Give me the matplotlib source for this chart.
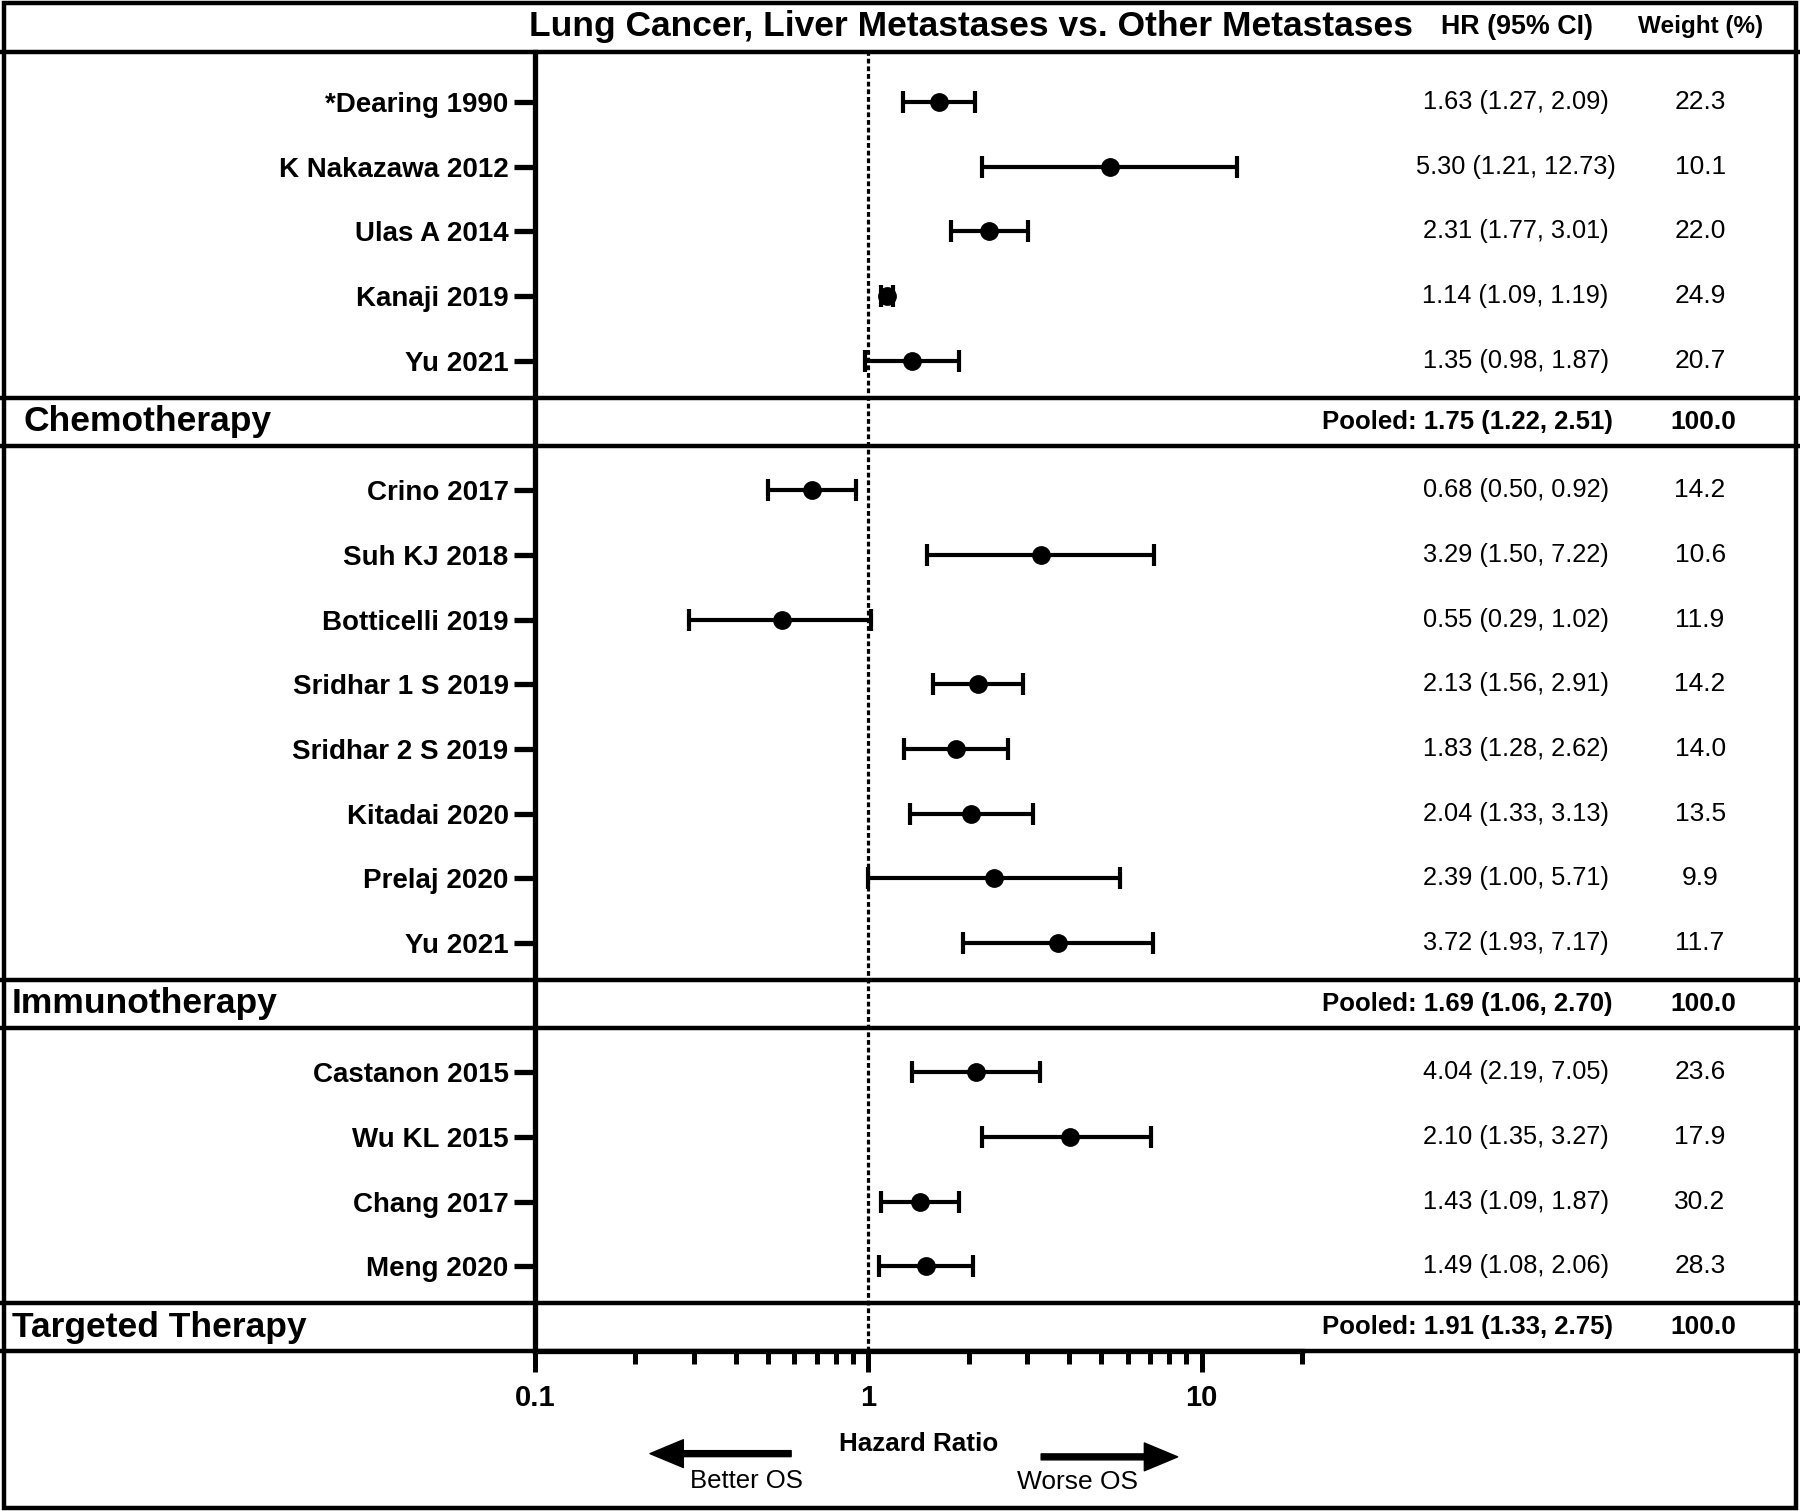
import matplotlib

matplotlib.use("Agg")
from matplotlib import pyplot as plt
from matplotlib import ticker, transforms
from matplotlib.patches import Rectangle

plt.rcParams["font.family"] = ["Liberation Sans", "DejaVu Sans"]

# ---- data -------------------------------------------------------------
title = "Lung Cancer, Liver Metastases vs. Other Metastases"

chemo_studies = ["*Dearing 1990", "K Nakazawa 2012", "Ulas A 2014", "Kanaji 2019", "Yu 2021"]
chemo_hr = [1.63, 5.30, 2.31, 1.14, 1.35]
chemo_lo = [1.27, 2.20, 1.77, 1.09, 0.98]
chemo_hi = [2.09, 12.73, 3.01, 1.19, 1.87]
chemo_text = ["1.63 (1.27, 2.09)", "5.30 (1.21, 12.73)", "2.31 (1.77, 3.01)",
              "1.14 (1.09, 1.19)", "1.35 (0.98, 1.87)"]
chemo_weight = ["22.3", "10.1", "22.0", "24.9", "20.7"]

immuno_studies = ["Crino 2017", "Suh KJ 2018", "Botticelli 2019", "Sridhar 1 S 2019",
                  "Sridhar 2 S 2019", "Kitadai 2020", "Prelaj 2020", "Yu 2021"]
immuno_hr = [0.68, 3.29, 0.55, 2.13, 1.83, 2.04, 2.39, 3.72]
immuno_lo = [0.50, 1.50, 0.29, 1.56, 1.28, 1.33, 1.00, 1.93]
immuno_hi = [0.92, 7.22, 1.02, 2.91, 2.62, 3.13, 5.71, 7.17]
immuno_text = ["0.68 (0.50, 0.92)", "3.29 (1.50, 7.22)", "0.55 (0.29, 1.02)",
               "2.13 (1.56, 2.91)", "1.83 (1.28, 2.62)", "2.04 (1.33, 3.13)",
               "2.39 (1.00, 5.71)", "3.72 (1.93, 7.17)"]
immuno_weight = ["14.2", "10.6", "11.9", "14.2", "14.0", "13.5", "9.9", "11.7"]

targeted_studies = ["Castanon 2015", "Wu KL 2015", "Chang 2017", "Meng 2020"]
targeted_hr = [2.10, 4.04, 1.43, 1.49]
targeted_lo = [1.35, 2.19, 1.09, 1.08]
targeted_hi = [3.27, 7.05, 1.87, 2.06]
targeted_text = ["4.04 (2.19, 7.05)", "2.10 (1.35, 3.27)", "1.43 (1.09, 1.87)",
                 "1.49 (1.08, 2.06)"]
targeted_weight = ["23.6", "17.9", "30.2", "28.3"]

group_names = ["Chemotherapy", "Immunotherapy", "Targeted Therapy"]
pooled_text = ["Pooled: 1.75 (1.22, 2.51)", "Pooled: 1.69 (1.06, 2.70)",
               "Pooled: 1.91 (1.33, 2.75)"]
pooled_weight = ["100.0", "100.0", "100.0"]

groups = [
    (chemo_studies, chemo_hr, chemo_lo, chemo_hi, chemo_text, chemo_weight),
    (immuno_studies, immuno_hr, immuno_lo, immuno_hi, immuno_text, immuno_weight),
    (targeted_studies, targeted_hr, targeted_lo, targeted_hi, targeted_text, targeted_weight),
]

# ---- layout -----------------------------------------------------------
fig = plt.figure(figsize=(18, 15.11), dpi=100)
ax = fig.add_axes([0.2972, 0.1059, 0.4261, 0.8599])

LW = 3.2
HR_X, W_X, POOL_X = 0.842, 0.9445, 0.896

# one row slot per study, one extra slot for each group's header band
row = 0
ticks, tick_labels, header_rows = [], [], []
hr_all, lo_all, hi_all, txt_all, w_all = [], [], [], [], []
for studies, hr, lo, hi, texts, weights in groups:
    for name in studies:
        ticks.append(row)
        tick_labels.append(name)
        row += 1
    hr_all += hr
    lo_all += lo
    hi_all += hi
    txt_all += texts
    w_all += weights
    header_rows.append(row)
    row += 1

fulltrans = transforms.blended_transform_factory(fig.transFigure, ax.transData)

# forest marks
xerr = [[h - l for h, l in zip(hr_all, lo_all)], [u - h for h, u in zip(hr_all, hi_all)]]
ax.errorbar(hr_all, ticks, xerr=xerr, fmt="o", color="black", ms=12.5, elinewidth=3,
            capsize=8, capthick=3, zorder=3)
ax.axvline(1, color="black", lw=2.3, ls=(0, (1.5, 0.9)), zorder=1)

# right-hand text columns
for y, txt, w in zip(ticks, txt_all, w_all):
    ax.text(HR_X, y, txt, transform=fulltrans, ha="center", va="center", fontsize=18.3)
    ax.text(W_X, y, w, transform=fulltrans, ha="center", va="center", fontsize=19)

# section header bands
above, below = 0.43, 0.31
top = -0.78
bottom = header_rows[-1] + below
sep_lines = [top]
for hrow, name, ptxt, pw in zip(header_rows, group_names, pooled_text, pooled_weight):
    sep_lines += [hrow - above, hrow + below]
    mid = hrow - (above - below) / 2
    lx = 0.0128 if name == "Chemotherapy" else 0.0064
    ax.text(lx, mid, name, transform=fulltrans, ha="left", va="center", fontsize=25.5,
            fontweight="bold")
    ax.text(POOL_X, mid, ptxt, transform=fulltrans, ha="right", va="center", fontsize=18.5,
            fontweight="bold")
    ax.text(W_X + 0.002, mid, pw, transform=fulltrans, ha="center", va="center", fontsize=19,
            fontweight="bold")
for y in sep_lines:
    ax.plot([0, 1], [y, y], transform=fulltrans, color="black", lw=LW, clip_on=False,
            solid_capstyle="butt", zorder=4)

ax.set_ylim(bottom, top)
ax.set_xscale("log")
ax.set_xlim(0.1, 20)
ax.set_yticks(ticks, tick_labels)
ax.xaxis.set_major_locator(ticker.FixedLocator([0.1, 1, 10]))
ax.xaxis.set_major_formatter(ticker.FixedFormatter(["0.1", "1", "10"]))
ax.xaxis.set_minor_locator(ticker.LogLocator(base=10, subs=range(2, 10)))
ax.xaxis.set_minor_formatter(ticker.NullFormatter())

for side in ("top", "right"):
    ax.spines[side].set_visible(False)
for side in ("left", "bottom"):
    ax.spines[side].set_linewidth(3.8)
ax.tick_params(axis="y", length=15, width=3.8, pad=4, labelsize=20)
ax.tick_params(axis="x", which="major", length=15, width=3.6, pad=9, labelsize=21)
ax.tick_params(axis="x", which="minor", length=9, width=3.6)
for lab in ax.get_yticklabels() + ax.get_xticklabels():
    lab.set_fontweight("bold")
ax.set_xlabel("Hazard Ratio", fontsize=18.7, fontweight="bold", labelpad=14)

# direction arrows
arrow = dict(facecolor="black", edgecolor="black", width=4.3, headwidth=20, headlength=24)
ax.annotate("", xy=(0.150, -0.079), xytext=(0.334, -0.079), xycoords="axes fraction",
            arrowprops=arrow, annotation_clip=False)
ax.annotate("", xy=(0.838, -0.0815), xytext=(0.660, -0.0815), xycoords="axes fraction",
            arrowprops=arrow, annotation_clip=False)
ax.text(0.276, -0.100, "Better OS", transform=ax.transAxes, ha="center", va="center",
        fontsize=18.5)
ax.text(0.708, -0.101, "Worse OS", transform=ax.transAxes, ha="center", va="center",
        fontsize=19)

# title row
fig.text(0.5396, 0.9822, title, ha="center", va="center", fontsize=25.5, fontweight="bold")
fig.text(HR_X + 0.001, 0.9822, "HR (95% CI)", ha="center", va="center", fontsize=19.4,
         fontweight="bold")
fig.text(W_X, 0.9822, "Weight (%)", ha="center", va="center", fontsize=17.5,
         fontweight="bold")

fig.add_artist(Rectangle((0.002, 0.002), 0.996, 0.996, transform=fig.transFigure, fill=False,
                         lw=LW, edgecolor="black"))

fig.savefig("out.png", dpi=100, facecolor="white")
